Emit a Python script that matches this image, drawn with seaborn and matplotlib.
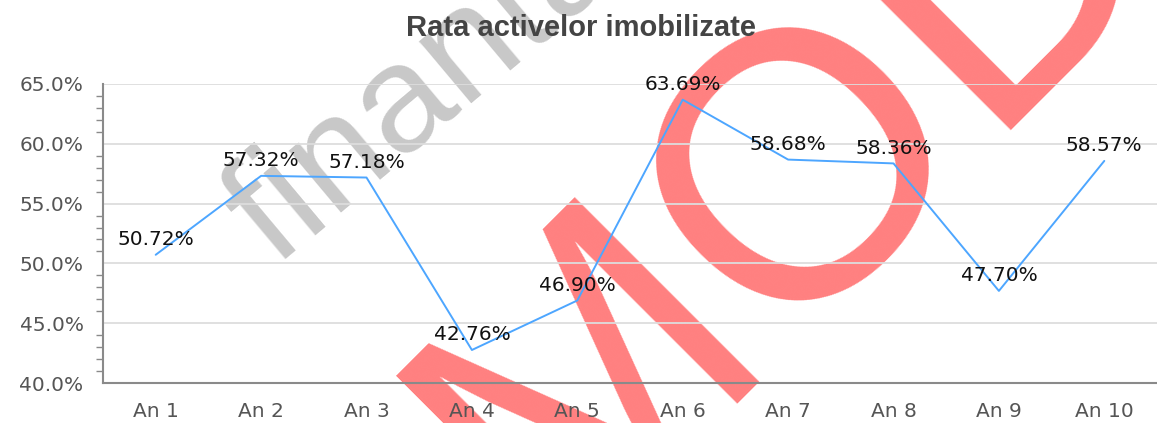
import matplotlib
matplotlib.use("Agg")
import matplotlib.pyplot as plt
import seaborn as sns
import pandas as pd
from matplotlib.ticker import MultipleLocator, FuncFormatter

# date
ani = ["An 1", "An 2", "An 3", "An 4", "An 5", "An 6", "An 7", "An 8", "An 9", "An 10"]
rata = [50.72, 57.32, 57.18, 42.76, 46.90, 63.69, 58.68, 58.36, 47.70, 58.57]
titlu = "Rata activelor imobilizate"

sns.set_style("white")
plt.rcParams['font.family'] = ['DejaVu Sans']

W, H = 1157, 423
fig = plt.figure(figsize=(W / 100, H / 100), dpi=100)
ax = fig.add_axes([103 / W, 40 / H, (W - 103) / W, 299 / H])
ax.patch.set_alpha(0)

# watermark-uri (sub linie)
fig.text(275 / W, 1 - 266 / H, "finantare.ro", rotation=40, rotation_mode="anchor",
         ha="left", va="baseline", fontsize=110, color="#c8c8c8",
         family="Liberation Sans", zorder=-3)
fig.text(550 / W, 1 - 560 / H, "MODEL", rotation=45, rotation_mode="anchor",
         ha="left", va="baseline", fontsize=272, color="#ff8080",
         family="Liberation Sans", zorder=-2)

df = pd.DataFrame({"an": ani, "rata": rata})
sns.lineplot(data=df, x="an", y="rata", ax=ax, sort=False,
             color="#4da6ff", linewidth=1.4, zorder=3)

for i, v in enumerate(rata):
    ax.annotate(f"{v:.2f}%", (i, v), xytext=(0, 4), textcoords="offset points",
                ha="center", va="bottom", fontsize=14.5, color="#111111", zorder=4)

ax.set_xlim(-0.5, 9.5)
ax.set_ylim(40, 65)
ax.yaxis.set_major_locator(MultipleLocator(5))
ax.yaxis.set_minor_locator(MultipleLocator(1))
ax.yaxis.set_major_formatter(FuncFormatter(lambda v, p: f"{v:.1f}%"))
ax.yaxis.grid(True, color="#dddddd", linewidth=1.3, zorder=1)
ax.set_axisbelow(True)
ax.set_xlabel("")
ax.set_ylabel("")

for s in ["top", "right"]:
    ax.spines[s].set_visible(False)
for s in ["left", "bottom"]:
    ax.spines[s].set_color("#8a8a8a")
    ax.spines[s].set_linewidth(1.5)

ax.tick_params(axis="y", which="major", length=8, width=1.2, color="#8a8a8a",
               pad=6, labelsize=14.5, labelcolor="#555555")
ax.tick_params(axis="y", which="minor", length=5, width=1, color="#8a8a8a", left=True)
ax.tick_params(axis="x", length=0, pad=14, labelsize=14.5, labelcolor="#555555")

fig.text(0.502, 1 - 28 / H, titlu, ha="center", va="center", fontsize=21,
         fontweight="bold", color="#444444", family="Liberation Sans")

fig.savefig("out.png", dpi=100)
